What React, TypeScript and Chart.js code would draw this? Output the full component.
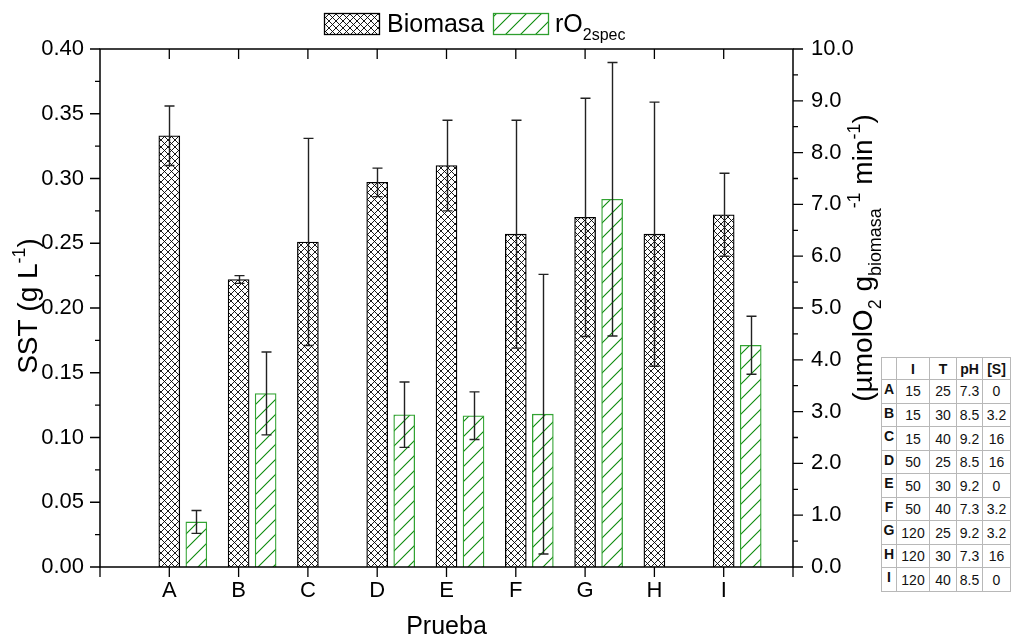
import React, { useEffect, useRef } from "react";
import { Chart, registerables } from "chart.js";

Chart.register(...registerables);

const FONT = "'Liberation Sans', Arial, Helvetica, sans-serif";

// ---------- data ----------
const categories = ["A", "B", "C", "D", "E", "F", "G", "H", "I"];
const biomasa = [0.333, 0.222, 0.251, 0.297, 0.31, 0.257, 0.27, 0.257, 0.272];
const biomasaErr = [0.023, 0.003, 0.08, 0.011, 0.035, 0.088, 0.092, 0.102, 0.032];
const rO2spec = [0.87, 3.35, null, 2.94, 2.92, 2.95, 7.1, null, 4.28];
const rO2specErr = [0.22, 0.8, null, 0.63, 0.46, 2.7, 2.64, null, 0.56];
const leftTickStep = 0.05;
const rightTickStep = 1;

const tableCols = ["I", "T", "pH", "[S]"];
const tableI = ["15", "15", "15", "50", "50", "50", "120", "120", "120"];
const tableT = ["25", "30", "40", "25", "30", "40", "25", "30", "40"];
const tablePH = ["7.3", "8.5", "9.2", "8.5", "9.2", "7.3", "9.2", "7.3", "8.5"];
const tableS = ["0", "3.2", "16", "16", "0", "3.2", "3.2", "16", "0"];

// ---------- layout constants ----------
const W = 1011;
const H = 641;
const AREA = { left: 100, right: 793, top: 49, bottom: 567 };
const RO2_OFFSET = 0.39;
const BAR_W = 21;

type Run = { t: string; k?: "sub" | "sup" };

function drawRuns(
  ctx: CanvasRenderingContext2D,
  runs: Run[],
  cx: number,
  cy: number,
  size: number,
  rot: number,
  align: "center" | "left" = "center"
) {
  ctx.save();
  ctx.translate(cx, cy);
  ctx.rotate(rot);
  const small = size * 0.64;
  const fontFor = (r: Run) => `${r.k ? small : size}px ${FONT}`;
  let total = 0;
  const widths = runs.map((r) => {
    ctx.font = fontFor(r);
    const w = ctx.measureText(r.t).width;
    total += w;
    return w;
  });
  let x = align === "center" ? -total / 2 : 0;
  ctx.textBaseline = "alphabetic";
  ctx.textAlign = "left";
  ctx.fillStyle = "#000";
  const base = size * 0.358;
  runs.forEach((r, i) => {
    ctx.font = fontFor(r);
    const dy = r.k === "sub" ? size * 0.32 : r.k === "sup" ? -size * 0.42 : 0;
    ctx.fillText(r.t, x, base + dy);
    x += widths[i];
  });
  ctx.restore();
}

function makeCross(): CanvasPattern | string {
  const s = 7;
  const c = document.createElement("canvas");
  c.width = s;
  c.height = s;
  const g = c.getContext("2d");
  if (!g) return "#fff";
  g.fillStyle = "#fff";
  g.fillRect(0, 0, s, s);
  g.strokeStyle = "#000";
  g.lineWidth = 0.9;
  g.beginPath();
  g.moveTo(-1, -1);
  g.lineTo(s + 1, s + 1);
  g.moveTo(-1, s + 1);
  g.lineTo(s + 1, -1);
  g.stroke();
  return g.createPattern(c, "repeat") || "#fff";
}

function makeHatch(): CanvasPattern | string {
  const s = 15;
  const c = document.createElement("canvas");
  c.width = s;
  c.height = s;
  const g = c.getContext("2d");
  if (!g) return "#fff";
  g.fillStyle = "#fff";
  g.fillRect(0, 0, s, s);
  g.strokeStyle = "#0b8a0b";
  g.lineWidth = 1.1;
  g.beginPath();
  for (const k of [-s, 0, s]) {
    g.moveTo(k - 1, s + 1);
    g.lineTo(k + s + 1, -1);
  }
  g.stroke();
  return g.createPattern(c, "repeat") || "#fff";
}

export default function App() {
  const canvasRef = useRef<HTMLCanvasElement | null>(null);

  useEffect(() => {
    const canvas = canvasRef.current;
    if (!canvas) return;
    const cross = makeCross();
    const hatch = makeHatch();

    const errorPlugin = {
      id: "errorBars",
      afterDatasetsDraw(chart: any) {
        const ctx = chart.ctx as CanvasRenderingContext2D;
        const sets: [number, (number | null)[], (number | null)[]][] = [
          [0, biomasa, biomasaErr],
          [1, rO2spec, rO2specErr],
        ];
        ctx.save();
        ctx.strokeStyle = "#222";
        ctx.lineWidth = 1.4;
        for (const [di, vals, errs] of sets) {
          const meta = chart.getDatasetMeta(di);
          const ys = chart.scales[meta.yAxisID];
          meta.data.forEach((el: any, i: number) => {
            const v = vals[i];
            const e = errs[i];
            if (v == null || e == null) return;
            const x = Math.round(el.x) + 0.5;
            const y1 = ys.getPixelForValue(v + e);
            const y2 = ys.getPixelForValue(v - e);
            ctx.beginPath();
            ctx.moveTo(x, y1);
            ctx.lineTo(x, y2);
            ctx.moveTo(x - 5, y1);
            ctx.lineTo(x + 5, y1);
            ctx.moveTo(x - 5, y2);
            ctx.lineTo(x + 5, y2);
            ctx.stroke();
          });
        }
        ctx.restore();
      },
    };

    const framePlugin = {
      id: "frameTicks",
      afterDraw(chart: any) {
        const ctx = chart.ctx as CanvasRenderingContext2D;
        const a = chart.chartArea;
        const xs = chart.scales.x;
        const yl = chart.scales.y;
        const yr = chart.scales.y2;
        ctx.save();
        ctx.strokeStyle = "#000";
        ctx.lineWidth = 1.5;
        ctx.beginPath();
        ctx.rect(a.left, a.top, a.right - a.left, a.bottom - a.top);
        ctx.stroke();
        ctx.lineWidth = 1.3;
        ctx.beginPath();
        for (let k = 0; k <= 16; k++) {
          const y = yl.getPixelForValue((k * leftTickStep) / 2);
          const len = k % 2 === 0 ? 10 : 5;
          ctx.moveTo(a.left, y);
          ctx.lineTo(a.left - len, y);
        }
        for (let k = 0; k <= 20; k++) {
          const y = yr.getPixelForValue((k * rightTickStep) / 2);
          const len = k % 2 === 0 ? 10 : 5;
          ctx.moveTo(a.right, y);
          ctx.lineTo(a.right + len, y);
        }
        for (let v = -1; v <= categories.length; v++) {
          const x = xs.getPixelForValue(v);
          ctx.moveTo(x, a.bottom);
          ctx.lineTo(x, a.bottom + 10);
          if (v >= 0 && v < categories.length) {
            ctx.moveTo(x, a.top);
            ctx.lineTo(x, a.top + 10);
          }
        }
        ctx.stroke();

        // axis titles
        drawRuns(ctx, [{ t: "SST (g L" }, { t: "-1", k: "sup" }, { t: ")" }], 27, 306, 28, -Math.PI / 2);
        drawRuns(
          ctx,
          [
            { t: "(µmolO" },
            { t: "2", k: "sub" },
            { t: " g" },
            { t: "biomasa", k: "sub" },
            { t: "-1", k: "sup" },
            { t: " min" },
            { t: "-1", k: "sup" },
            { t: ")" },
          ],
          862,
          258,
          28,
          -Math.PI / 2
        );
        drawRuns(ctx, [{ t: "Prueba" }], (a.left + a.right) / 2, 625, 25, 0);

        // legend
        ctx.fillStyle = cross as any;
        ctx.fillRect(324, 13, 55, 21);
        ctx.strokeStyle = "#000";
        ctx.lineWidth = 1.3;
        ctx.strokeRect(324.5, 13.5, 55, 21);
        ctx.fillStyle = hatch as any;
        ctx.fillRect(493, 13, 55, 21);
        ctx.strokeStyle = "#2e9e2e";
        ctx.strokeRect(493.5, 13.5, 55, 21);
        drawRuns(ctx, [{ t: "Biomasa" }], 387, 23.5, 25, 0, "left");
        drawRuns(ctx, [{ t: "rO" }, { t: "2spec", k: "sub" }], 555, 23.5, 25, 0, "left");
        ctx.restore();
      },
    };

    const chart = new Chart(canvas, {
      type: "bar",
      data: {
        datasets: [
          {
            label: "Biomasa",
            data: biomasa.map((v, i) => ({ x: i, y: v })),
            yAxisID: "y",
            backgroundColor: cross as any,
            borderColor: "#000",
            borderWidth: 1.3,
            barThickness: BAR_W,
            grouped: false,
          },
          {
            label: "rO2spec",
            data: rO2spec.map((v, i) => ({ x: i + RO2_OFFSET, y: v })),
            yAxisID: "y2",
            backgroundColor: hatch as any,
            borderColor: "#33a333",
            borderWidth: 1.3,
            barThickness: BAR_W,
            grouped: false,
          },
        ],
      } as any,
      options: {
        animation: false,
        responsive: false,
        devicePixelRatio: 1,
        layout: { padding: { top: AREA.top, left: 0, right: 0, bottom: 0 } },
        plugins: { legend: { display: false }, tooltip: { enabled: false } },
        scales: {
          x: {
            type: "linear",
            min: -1,
            max: categories.length,
            offset: false,
            grid: { display: false, drawTicks: false },
            border: { display: false },
            ticks: {
              stepSize: 1,
              autoSkip: false,
              maxRotation: 0,
              padding: 11,
              color: "#000",
              font: { family: FONT, size: 22 },
              callback: (v: any) => categories[Number(v)] ?? "",
            },
            afterFit: (s: any) => {
              s.height = H - AREA.bottom;
            },
          },
          y: {
            position: "left",
            min: 0,
            max: 0.4,
            grid: { display: false, drawTicks: false },
            border: { display: false },
            ticks: {
              stepSize: leftTickStep,
              padding: 16,
              color: "#000",
              font: { family: FONT, size: 22 },
              callback: (v: any) => Number(v).toFixed(2),
            },
            afterFit: (s: any) => {
              s.width = AREA.left;
            },
          },
          y2: {
            position: "right",
            min: 0,
            max: 10,
            grid: { display: false, drawTicks: false },
            border: { display: false },
            ticks: {
              stepSize: rightTickStep,
              padding: 18,
              color: "#000",
              font: { family: FONT, size: 22 },
              callback: (v: any) => Number(v).toFixed(1),
            },
            afterFit: (s: any) => {
              s.width = W - AREA.right;
            },
          },
        },
      } as any,
      plugins: [errorPlugin, framePlugin],
    });
    return () => chart.destroy();
  }, []);

  const cellBase: React.CSSProperties = {
    border: "1px solid #b8b8b8",
    padding: 0,
    textAlign: "center",
    verticalAlign: "middle",
    color: "#111",
  };
  const colW = [15, 33, 27, 26, 28];

  return (
    <div style={{ position: "fixed", left: 0, top: 0, width: W, height: H, background: "#fff" }}>
      <canvas ref={canvasRef} width={W} height={H} style={{ width: W, height: H, display: "block" }} />
      <table
        style={{
          position: "absolute",
          left: 881,
          top: 357,
          width: 129,
          height: 235,
          borderCollapse: "collapse",
          border: "1.5px solid #333",
          fontFamily: FONT,
          fontSize: 14,
          tableLayout: "fixed",
          background: "#fff",
        }}
      >
        <colgroup>
          {colW.map((w, i) => (
            <col key={i} style={{ width: w }} />
          ))}
        </colgroup>
        <tbody>
          <tr>
            <td style={cellBase}></td>
            {tableCols.map((c) => (
              <td key={c} style={{ ...cellBase, fontWeight: "bold" }}>
                {c}
              </td>
            ))}
          </tr>
          {categories.map((c, i) => (
            <tr key={c}>
              <td style={{ ...cellBase, fontWeight: "bold", verticalAlign: "top", paddingTop: 1 }}>{c}</td>
              <td style={cellBase}>{tableI[i]}</td>
              <td style={cellBase}>{tableT[i]}</td>
              <td style={cellBase}>{tablePH[i]}</td>
              <td style={cellBase}>{tableS[i]}</td>
            </tr>
          ))}
        </tbody>
      </table>
    </div>
  );
}
